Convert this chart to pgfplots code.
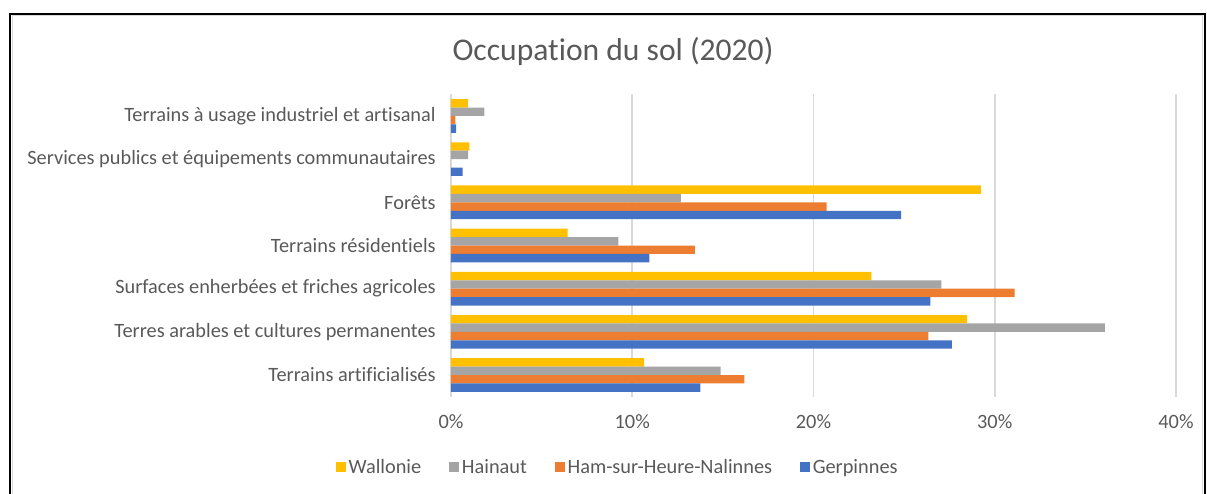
\documentclass[border=0pt]{standalone}
\usepackage{pgfplots}
\pgfplotsset{compat=1.18}
\usepackage{fontspec}
\setmainfont{Carlito}[Ligatures=NoCommon]
\definecolor{cWal}{HTML}{FFC000}
\definecolor{cHai}{HTML}{A5A5A5}
\definecolor{cHam}{HTML}{ED7D31}
\definecolor{cGer}{HTML}{4472C4}
\definecolor{txt}{HTML}{595959}
\definecolor{gridc}{HTML}{D9D9D9}
\begin{document}
\begin{tikzpicture}
\path[use as bounding box] (0pt,0pt) rectangle (905.25pt,369.75pt);
\draw[black, line width=1.5pt] (7.5pt,-2pt) -- (7.5pt,359.5pt) -- (903.75pt,359.5pt) -- (903.75pt,-2pt);
\draw[gridc, line width=0.8pt] (9.2pt,-2pt) -- (9.2pt,357.8pt) -- (902pt,357.8pt) -- (902pt,-2pt);
\node[text=txt, font=\fontsize{23.7}{28}\selectfont] at (459.75pt,331pt) {Occupation du sol (2020)};
\begin{axis}[
  at={(338.25pt,72.3pt)}, anchor=south west,
  scale only axis, width=543.75pt, height=226.65pt,
  xbar, bar width=0.195,
  xmin=0, xmax=40, ymin=-0.5, ymax=6.5,
  xtick={0,10,20,30,40},
  xticklabels={0\%,10\%,20\%,30\%,40\%},
  ytick={0,1,2,3,4,5,6},
  yticklabels={Terrains artificialisés,Terres arables et cultures permanentes,Surfaces enherbées et friches agricoles,Terrains résidentiels,Forêts,Services publics et équipements communautaires,Terrains à usage industriel et artisanal},
  axis line style={draw=none},
  major tick length=0pt,
  xmajorgrids, grid style={gridc, line width=1.2pt},
  ticklabel style={text=txt, font=\fontsize{15.25}{18}\selectfont},
  xticklabel style={yshift=-9.75pt},
  yticklabel style={xshift=-8pt},
  legend columns=4,
  legend style={at={(rel axis cs:0.2305,-0.233)}, anchor=center, draw=none, fill=none,
    font=\fontsize{15.25}{18}\selectfont, text=txt,
    /tikz/every even column/.append style={column sep=19pt}},
  legend image code/.code={\fill[#1] (0pt,-3.8pt) rectangle (7.5pt,3.7pt);},
]
\addplot[draw=none, fill=cWal, bar shift=0.2925] coordinates {(10.65,0) (28.47,1) (23.19,2) (6.44,3) (29.24,4) (1.01,5) (0.95,6)};
\addplot[draw=none, fill=cHai, bar shift=0.0975] coordinates {(14.87,0) (36.07,1) (27.05,2) (9.24,3) (12.68,4) (0.94,5) (1.84,6)};
\addplot[draw=none, fill=cHam, bar shift=-0.0975] coordinates {(16.18,0) (26.34,1) (31.1,2) (13.45,3) (20.73,4) (0,5) (0.24,6)};
\addplot[draw=none, fill=cGer, bar shift=-0.2925] coordinates {(13.76,0) (27.64,1) (26.45,2) (10.95,3) (24.83,4) (0.64,5) (0.28,6)};
\legend{Wallonie,Hainaut,Ham-sur-Heure-Nalinnes,Gerpinnes}
\end{axis}
\end{tikzpicture}
\end{document}
